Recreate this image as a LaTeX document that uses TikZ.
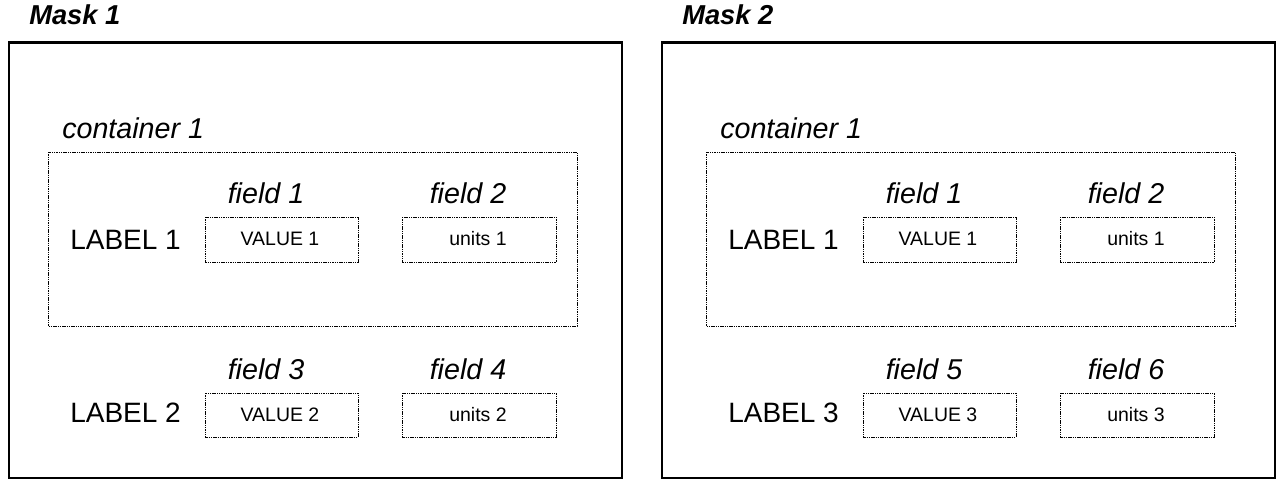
\documentclass[tikz,border=0pt]{standalone}
\usepackage{fontspec}
\setmainfont{Liberation Sans}
\begin{document}
\begin{tikzpicture}[x=0.75pt,y=-0.75pt,
  frame/.style={draw=black,line width=1.7pt},
  dotbox/.style={draw=black,line width=0.5pt,dash pattern=on 1.1pt off 0.6pt},
  titletxt/.style={font=\fontsize{20.5}{24}\selectfont\bfseries\itshape,anchor=base west,inner sep=0pt},
  captxt/.style={font=\fontsize{21.5}{25}\selectfont\itshape,anchor=base,inner sep=0pt},
  lbltxt/.style={font=\fontsize{21}{25}\selectfont,anchor=base west,inner sep=0pt},
  valtxt/.style={font=\fontsize{14.6}{17}\selectfont,anchor=base,inner sep=0pt}]
\useasboundingbox (0,0) rectangle (1279,479);

% one mask: #1 = offset of the contents, #2 = offset of the frame,
% #3 = mask number, #4 #5 #6 = numbers of the second row
\newcommand{\maskpanel}[6]{%
  \begin{scope}[xshift=#2*0.75pt]
    \node[titletxt] (title#3) at (29,24) {Mask #3};
    \draw[frame] (9,42.5) rectangle (622,478);
  \end{scope}
  \begin{scope}[xshift=#1*0.75pt]
    \node[captxt,anchor=base west] (cont#3) at (62,138) {container 1};
    \draw[dotbox] (48,152) rectangle (577,326);
    % row inside the container
    \node[lbltxt] (labA#3) at (70,249) {LABEL 1};
    \draw[dotbox] (205,217) rectangle (358,262);
    \draw[dotbox] (402,217) rectangle (556,262);
    \node[captxt] (fA#3) at (266,203) {field 1};
    \node[captxt] (fB#3) at (468,203) {field 2};
    \node[valtxt] (vA#3) at (280,245) {VALUE 1};
    \node[valtxt] (vB#3) at (478,245) {units 1};
    % row below the container
    \node[lbltxt] (labB#3) at (70,422) {LABEL #4};
    \draw[dotbox] (205,393) rectangle (358,437);
    \draw[dotbox] (402,393) rectangle (556,437);
    \node[captxt] (fC#3) at (266,379) {field #5};
    \node[captxt] (fD#3) at (468,379) {field #6};
    \node[valtxt] (vC#3) at (280,421) {VALUE #4};
    \node[valtxt] (vD#3) at (478,421) {units #4};
  \end{scope}}

\maskpanel{0}{0}{1}{2}{3}{4}
\maskpanel{658}{653}{2}{3}{5}{6}
\end{tikzpicture}
\end{document}
